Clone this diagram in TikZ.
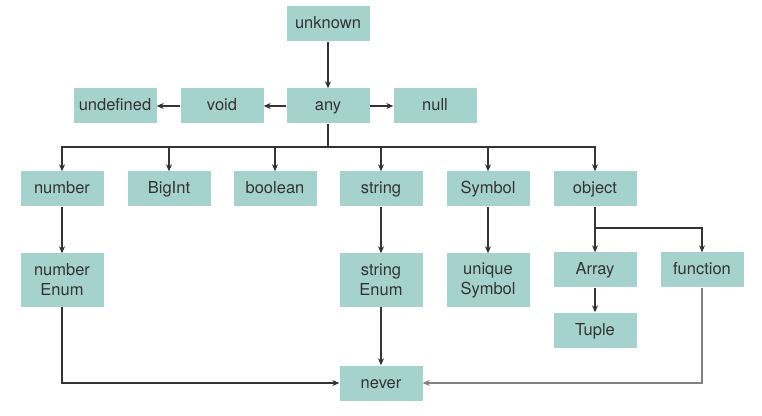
\documentclass[tikz,border=0pt]{standalone}
\usepackage{fontspec}
\setmainfont{TeX Gyre Heros}
\usetikzlibrary{arrows.meta}

\begin{document}
\begin{tikzpicture}[x=1pt, y=1pt, every text node part/.style={align=center}]

\definecolor{boxfill}{RGB}{166,210,206}
\definecolor{ink}{RGB}{51,51,51}
\tikzstyle{cell}=[fill=boxfill, text=ink, minimum width=83pt, minimum height=35pt, inner sep=0pt, font=\fontsize{16.5}{20}\selectfont]
\tikzstyle{box}=[cell, text height=10pt, text depth=0pt]
\tikzstyle{tall}=[cell, minimum height=53pt]
\tikzstyle{edge}=[draw, ink, line width=1.1pt, -{Stealth[length=7pt, width=6pt]}]

\useasboundingbox (0, 0) rectangle (762, 415);

\node [box] (unknown)   at (328, 391) {unknown};

\node [box] (undefined) at (115, 309) {undefined};
\node [box] (void)      at (222, 309) {void};
\node [box] (any)       at (328, 309) {any};
\node [box] (null)      at (435, 309) {null};

\node [box] (number)    at ( 62, 226) {number};
\node [box] (bigint)    at (169, 226) {BigInt};
\node [box] (boolean)   at (275, 226) {boolean};
\node [box] (string)    at (381, 226) {string};
\node [box] (symbol)    at (488, 226) {Symbol};
\node [box] (object)    at (595, 226) {object};

\node [tall] (numenum)  at ( 62, 135) {number\\Enum};
\node [tall] (strenum)  at (381, 135) {string\\Enum};
\node [tall] (usymbol)  at (488, 135) {unique\\Symbol};
\node [box] (array)     at (595, 145) {Array};
\node [box] (function)  at (702, 145) {function};
\node [box] (tuple)     at (595,  85) {Tuple};

\node [box] (never)     at (381,  32) {never};

\coordinate (split)  at (328, 268);
\coordinate (osplit) at (595, 187);

\path [edge] (unknown) -- (any);
\path [edge] (any) -- (void);
\path [edge] (void) -- (undefined);
\path [edge] (any) -- (null);

\draw [ink, line width=1.1pt] (any) -- (split);
\path [edge] (split) -| (number);
\path [edge] (split) -| (bigint);
\path [edge] (split) -| (boolean);
\path [edge] (split) -| (string);
\path [edge] (split) -| (symbol);
\path [edge] (split) -| (object);

\path [edge] (number) -- (numenum);
\path [edge] (string) -- (strenum);
\path [edge] (symbol) -- (usymbol);
\path [edge] (object) -- (array);
\path [edge] (osplit) -| (function);
\path [edge] (array) -- (tuple);

\path [edge] (strenum) -- (never);
\path [edge] (numenum) |- (never);
\path [edge, gray] (function) |- (never);

\end{tikzpicture}
\end{document}
